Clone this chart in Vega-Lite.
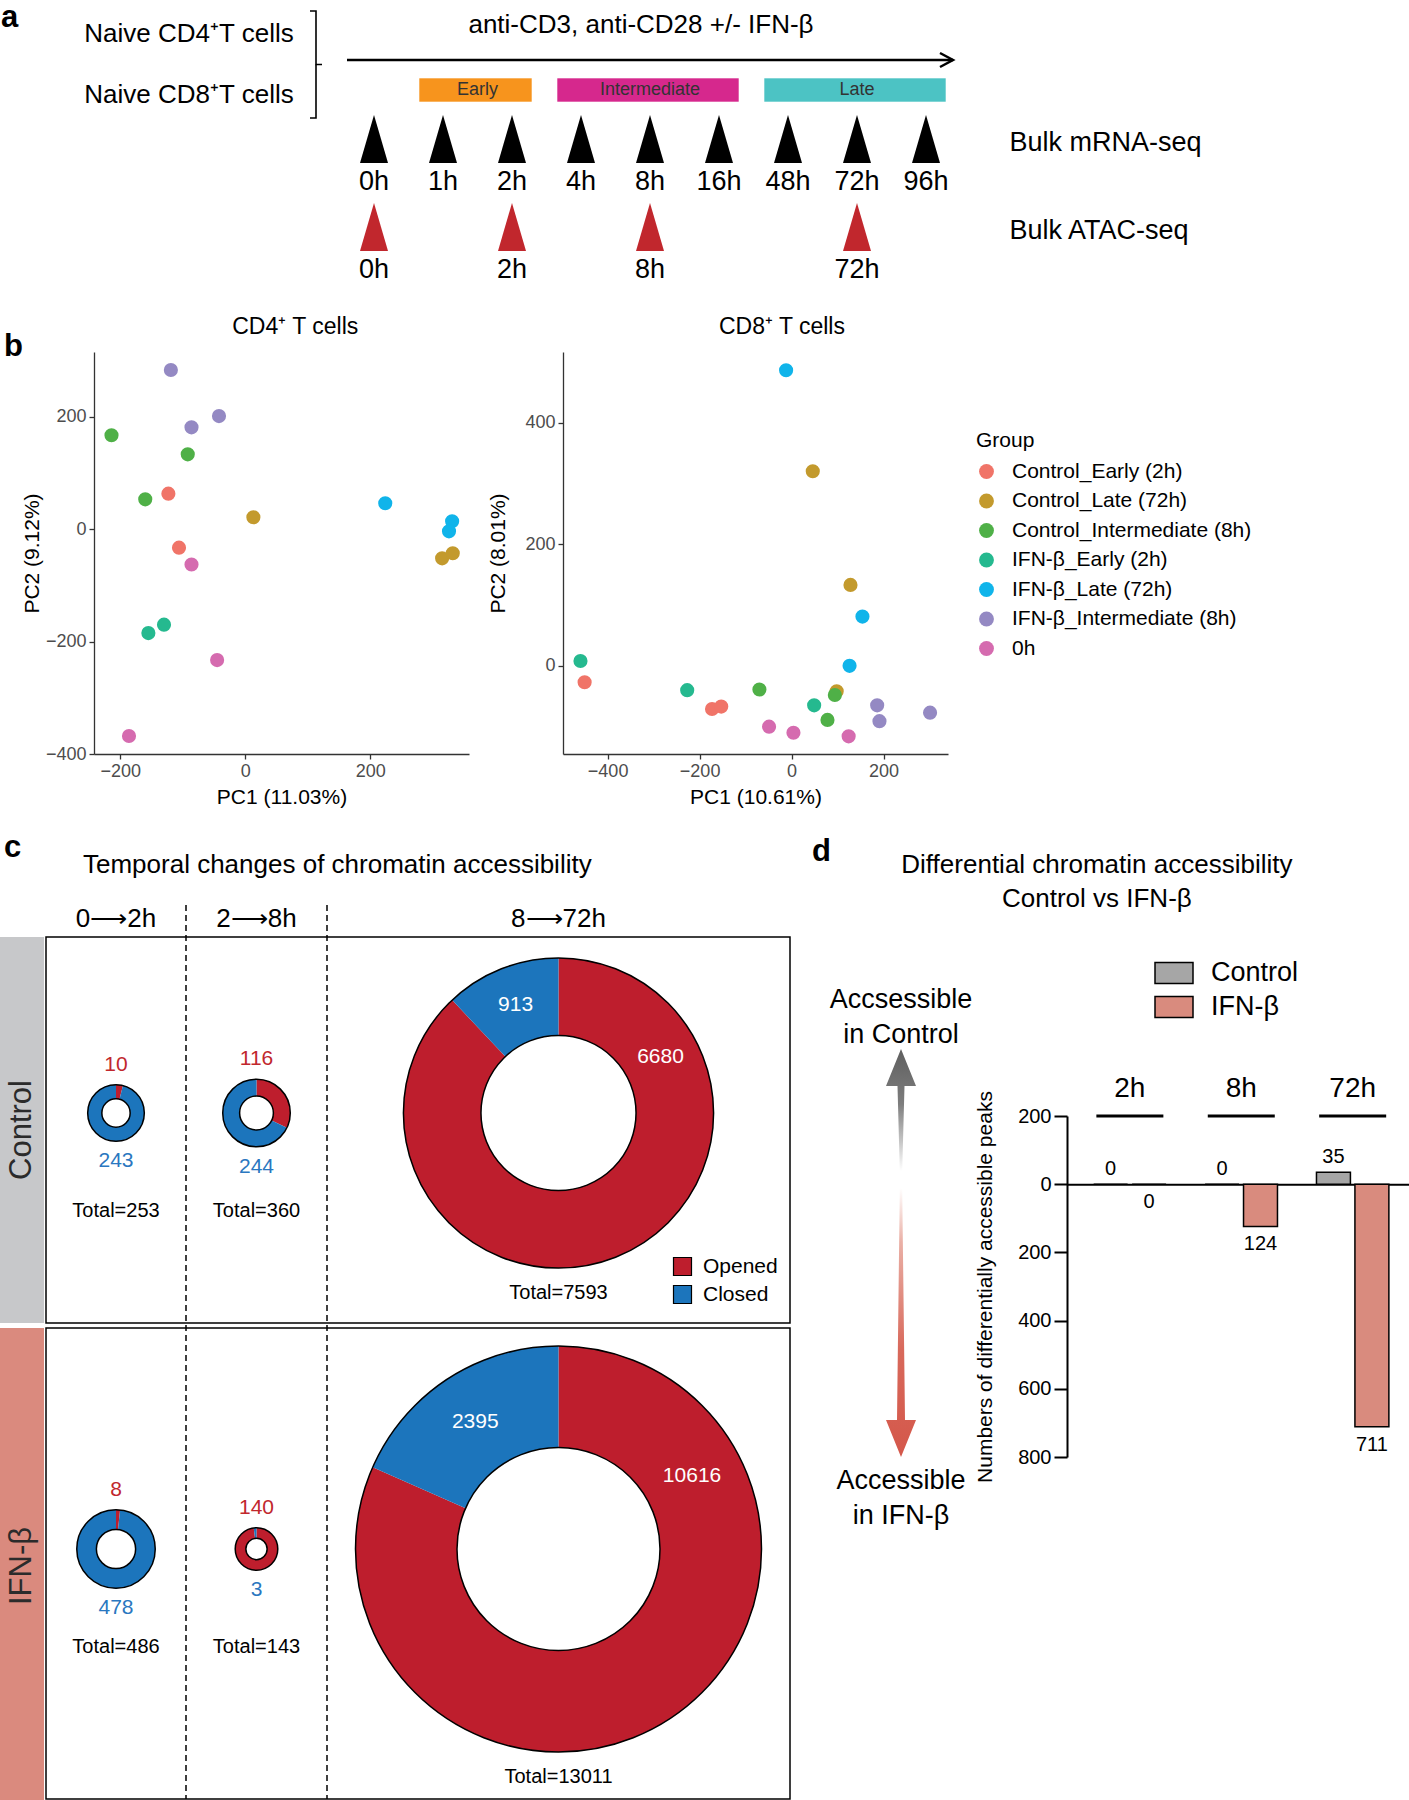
{
"$schema":"https://vega.github.io/schema/vega-lite/v6.json",
"padding":0,
"background":"white",
"config":{
 "font":"Liberation Sans",
 "view":{"stroke":null},
 "axis":{"grid":false,"domainColor":"#333333","domainWidth":1.3,"tickColor":"#333333","tickSize":5,"tickWidth":1.3,"labelColor":"#4D4D4D","labelFontSize":18,"labelPadding":3,"titleFontSize":21,"titleFontWeight":"normal","titleColor":"black","titlePadding":6,"labelLimit":0},
 "legend":{"titleFontWeight":"normal","titleColor":"black","labelColor":"black","labelLimit":0},
 "text":{"color":"black"}
},
"datasets":{
 "panelTitles":[{"panel":"a"},{"panel":"b"},{"panel":"c","title":"Temporal changes of chromatin accessibility"},{"panel":"d","title":["Differential chromatin accessibility","Control vs IFN-β"]}],
 "pcaTitles":[{"cells":"CD4","title":"CD4⁺ T cells"},{"cells":"CD8","title":"CD8⁺ T cells"}],
 "cells":[{"cell":"CD4","label":"Naive CD4⁺T cells"},{"cell":"CD8","label":"Naive CD8⁺T cells"}],
 "treatment":[{"label":"anti-CD3, anti-CD28 +/- IFN-β","start":0,"end":96}],
 "samples":[
  {"assay":"Bulk mRNA-seq","time":"0h","hours":0,"phase":null},
  {"assay":"Bulk mRNA-seq","time":"1h","hours":1,"phase":"Early"},
  {"assay":"Bulk mRNA-seq","time":"2h","hours":2,"phase":"Early"},
  {"assay":"Bulk mRNA-seq","time":"4h","hours":4,"phase":"Intermediate"},
  {"assay":"Bulk mRNA-seq","time":"8h","hours":8,"phase":"Intermediate"},
  {"assay":"Bulk mRNA-seq","time":"16h","hours":16,"phase":"Intermediate"},
  {"assay":"Bulk mRNA-seq","time":"48h","hours":48,"phase":"Late"},
  {"assay":"Bulk mRNA-seq","time":"72h","hours":72,"phase":"Late"},
  {"assay":"Bulk mRNA-seq","time":"96h","hours":96,"phase":"Late"},
  {"assay":"Bulk ATAC-seq","time":"0h","hours":0,"phase":null},
  {"assay":"Bulk ATAC-seq","time":"2h","hours":2,"phase":"Early"},
  {"assay":"Bulk ATAC-seq","time":"8h","hours":8,"phase":"Intermediate"},
  {"assay":"Bulk ATAC-seq","time":"72h","hours":72,"phase":"Late"}
 ],
 "pca":[
  {"cells":"CD4","group":"Control_Early (2h)","PC1":-123,"PC2":63},
  {"cells":"CD4","group":"Control_Early (2h)","PC1":-106,"PC2":-33},
  {"cells":"CD4","group":"Control_Late (72h)","PC1":13,"PC2":21},
  {"cells":"CD4","group":"Control_Late (72h)","PC1":315,"PC2":-52},
  {"cells":"CD4","group":"Control_Late (72h)","PC1":332,"PC2":-43},
  {"cells":"CD4","group":"Control_Intermediate (8h)","PC1":-214,"PC2":167},
  {"cells":"CD4","group":"Control_Intermediate (8h)","PC1":-92,"PC2":133},
  {"cells":"CD4","group":"Control_Intermediate (8h)","PC1":-160,"PC2":53},
  {"cells":"CD4","group":"IFN-β_Early (2h)","PC1":-155,"PC2":-185},
  {"cells":"CD4","group":"IFN-β_Early (2h)","PC1":-130,"PC2":-170},
  {"cells":"CD4","group":"IFN-β_Late (72h)","PC1":224,"PC2":46},
  {"cells":"CD4","group":"IFN-β_Late (72h)","PC1":331,"PC2":14},
  {"cells":"CD4","group":"IFN-β_Late (72h)","PC1":326,"PC2":-4},
  {"cells":"CD4","group":"IFN-β_Intermediate (8h)","PC1":-119,"PC2":283},
  {"cells":"CD4","group":"IFN-β_Intermediate (8h)","PC1":-42,"PC2":201},
  {"cells":"CD4","group":"IFN-β_Intermediate (8h)","PC1":-86,"PC2":181},
  {"cells":"CD4","group":"0h","PC1":-86,"PC2":-63},
  {"cells":"CD4","group":"0h","PC1":-45,"PC2":-233},
  {"cells":"CD4","group":"0h","PC1":-186,"PC2":-368},
  {"cells":"CD8","group":"Control_Early (2h)","PC1":-450,"PC2":-27},
  {"cells":"CD8","group":"Control_Early (2h)","PC1":-173,"PC2":-71},
  {"cells":"CD8","group":"Control_Early (2h)","PC1":-153,"PC2":-67},
  {"cells":"CD8","group":"Control_Late (72h)","PC1":46,"PC2":320},
  {"cells":"CD8","group":"Control_Late (72h)","PC1":128,"PC2":133},
  {"cells":"CD8","group":"Control_Late (72h)","PC1":98,"PC2":-42},
  {"cells":"CD8","group":"Control_Intermediate (8h)","PC1":-70,"PC2":-39},
  {"cells":"CD8","group":"Control_Intermediate (8h)","PC1":94,"PC2":-48},
  {"cells":"CD8","group":"Control_Intermediate (8h)","PC1":78,"PC2":-89},
  {"cells":"CD8","group":"IFN-β_Early (2h)","PC1":-459,"PC2":8},
  {"cells":"CD8","group":"IFN-β_Early (2h)","PC1":-227,"PC2":-40},
  {"cells":"CD8","group":"IFN-β_Early (2h)","PC1":49,"PC2":-65},
  {"cells":"CD8","group":"IFN-β_Late (72h)","PC1":-12,"PC2":486},
  {"cells":"CD8","group":"IFN-β_Late (72h)","PC1":154,"PC2":81},
  {"cells":"CD8","group":"IFN-β_Late (72h)","PC1":126,"PC2":0},
  {"cells":"CD8","group":"IFN-β_Intermediate (8h)","PC1":186,"PC2":-65},
  {"cells":"CD8","group":"IFN-β_Intermediate (8h)","PC1":191,"PC2":-91},
  {"cells":"CD8","group":"IFN-β_Intermediate (8h)","PC1":301,"PC2":-77},
  {"cells":"CD8","group":"0h","PC1":-49,"PC2":-100},
  {"cells":"CD8","group":"0h","PC1":4,"PC2":-110},
  {"cells":"CD8","group":"0h","PC1":124,"PC2":-116}
 ],
 "atac":[
  {"condition":"Control","interval":"0⟶2h","start":0,"end":2,"state":"Opened","count":10},
  {"condition":"Control","interval":"0⟶2h","start":0,"end":2,"state":"Closed","count":243},
  {"condition":"Control","interval":"2⟶8h","start":2,"end":8,"state":"Opened","count":116},
  {"condition":"Control","interval":"2⟶8h","start":2,"end":8,"state":"Closed","count":244},
  {"condition":"Control","interval":"8⟶72h","start":8,"end":72,"state":"Opened","count":6680},
  {"condition":"Control","interval":"8⟶72h","start":8,"end":72,"state":"Closed","count":913},
  {"condition":"IFN-β","interval":"0⟶2h","start":0,"end":2,"state":"Opened","count":8},
  {"condition":"IFN-β","interval":"0⟶2h","start":0,"end":2,"state":"Closed","count":478},
  {"condition":"IFN-β","interval":"2⟶8h","start":2,"end":8,"state":"Opened","count":140},
  {"condition":"IFN-β","interval":"2⟶8h","start":2,"end":8,"state":"Closed","count":3},
  {"condition":"IFN-β","interval":"8⟶72h","start":8,"end":72,"state":"Opened","count":10616},
  {"condition":"IFN-β","interval":"8⟶72h","start":8,"end":72,"state":"Closed","count":2395}
 ],
 "diff":[
  {"time":"2h","condition":"Control","peaks":0},
  {"time":"2h","condition":"IFN-β","peaks":0},
  {"time":"8h","condition":"Control","peaks":0},
  {"time":"8h","condition":"IFN-β","peaks":124},
  {"time":"72h","condition":"Control","peaks":35},
  {"time":"72h","condition":"IFN-β","peaks":711}
 ],
 "directions":[
  {"direction":"Control","label":["Accsessible","in Control"]},
  {"direction":"IFN-β","label":["Accessible","in IFN-β"]}
 ]
},
"vconcat":[
 {
  "width":1409,"height":300,
  "layer":[
   {"data":{"name":"panelTitles"},"transform":[{"filter":"datum.panel === 'a'"}],
    "mark":{"type":"text","fontSize":31,"fontWeight":"bold","align":"left","baseline":"alphabetic","dx":-373,"dy":-112},
    "encoding":{"x":{"datum":0,"type":"quantitative","scale":{"type":"linear","domain":[0,1,2,4,8,16,48,72,96],"range":[374,443,512,581,650,719,788,857,926],"nice":false,"zero":false},"axis":null},
     "y":{"datum":"Bulk mRNA-seq","type":"nominal","scale":{"type":"point","domain":["Bulk mRNA-seq","Bulk ATAC-seq"],"range":[139,227],"padding":0},"axis":null},
     "text":{"field":"panel","type":"nominal"}}},
   {"data":{"name":"cells"},"mark":{"type":"text","fontSize":26,"dx":-185},
    "encoding":{"x":{"datum":0,"type":"quantitative","scale":{"type":"linear","domain":[0,1,2,4,8,16,48,72,96],"range":[374,443,512,581,650,719,788,857,926],"nice":false,"zero":false},"axis":null},
     "y":{"field":"cell","type":"nominal","scale":{"type":"point","domain":["CD4","CD8"],"range":[11,118],"padding":0.383},"axis":null},
     "text":{"field":"label","type":"nominal"}}},
   {"data":{"name":"cells"},"mark":{"type":"point","filled":false,"size":4,"stroke":"black","strokeWidth":1.6,"opacity":1,"xOffset":-58},
    "encoding":{"x":{"datum":0,"type":"quantitative","scale":{"type":"linear","domain":[0,1,2,4,8,16,48,72,96],"range":[374,443,512,581,650,719,788,857,926],"nice":false,"zero":false},"axis":null},
     "y":{"field":"cell","type":"nominal","scale":{"type":"point","domain":["CD4","CD8"],"range":[11,118],"padding":0.383},"axis":null},
     "shape":{"field":"cell","type":"nominal","scale":{"domain":["CD4","CD8"],"range":["M-6,-23.2L0,-23.2L0,30.3L6,30.3","M0,-30.3L0,23.2L-6,23.2"]},"legend":null}}},
   {"data":{"name":"treatment"},"mark":{"type":"rule","color":"black","strokeWidth":2.5,"xOffset":-27,"x2Offset":27,"yOffset":-79},
    "encoding":{"x":{"field":"start","type":"quantitative","scale":{"type":"linear","domain":[0,1,2,4,8,16,48,72,96],"range":[374,443,512,581,650,719,788,857,926],"nice":false,"zero":false},"axis":null},
     "x2":{"field":"end"},
     "y":{"datum":"Bulk mRNA-seq","type":"nominal","scale":{"type":"point","domain":["Bulk mRNA-seq","Bulk ATAC-seq"],"range":[139,227],"padding":0},"axis":null}}},
   {"data":{"name":"treatment"},"mark":{"type":"point","shape":"M-13,-7L0,0L-13,7","size":4,"filled":false,"stroke":"black","strokeWidth":2.5,"opacity":1,"xOffset":27,"yOffset":-79},
    "encoding":{"x":{"field":"end","type":"quantitative","scale":{"type":"linear","domain":[0,1,2,4,8,16,48,72,96],"range":[374,443,512,581,650,719,788,857,926],"nice":false,"zero":false},"axis":null},
     "y":{"datum":"Bulk mRNA-seq","type":"nominal","scale":{"type":"point","domain":["Bulk mRNA-seq","Bulk ATAC-seq"],"range":[139,227],"padding":0},"axis":null}}},
   {"data":{"name":"treatment"},"mark":{"type":"text","fontSize":26,"dx":-9,"yOffset":-114},
    "encoding":{"x":{"datum":8,"type":"quantitative","scale":{"type":"linear","domain":[0,1,2,4,8,16,48,72,96],"range":[374,443,512,581,650,719,788,857,926],"nice":false,"zero":false},"axis":null},
     "y":{"datum":"Bulk mRNA-seq","type":"nominal","scale":{"type":"point","domain":["Bulk mRNA-seq","Bulk ATAC-seq"],"range":[139,227],"padding":0},"axis":null},
     "text":{"field":"label","type":"nominal"}}},
   {"data":{"name":"samples"},
    "transform":[{"filter":"datum.assay === 'Bulk mRNA-seq' && datum.phase !== null"},{"aggregate":[{"op":"min","field":"hours","as":"from"},{"op":"max","field":"hours","as":"to"},{"op":"median","field":"hours","as":"centre"}],"groupby":["phase"]}],
    "layer":[
     {"mark":{"type":"rect","xOffset":-24,"x2Offset":20,"yOffset":-61,"y2Offset":-37,"stroke":"white","strokeWidth":1,"strokeOpacity":0.6},
      "encoding":{"x":{"field":"from","type":"quantitative","scale":{"type":"linear","domain":[0,1,2,4,8,16,48,72,96],"range":[374,443,512,581,650,719,788,857,926],"nice":false,"zero":false},"axis":null},
       "x2":{"field":"to"},
       "y":{"datum":"Bulk mRNA-seq","type":"nominal","scale":{"type":"point","domain":["Bulk mRNA-seq","Bulk ATAC-seq"],"range":[139,227],"padding":0},"axis":null},
       "y2":{"datum":"Bulk mRNA-seq"},
       "color":{"field":"phase","type":"nominal","scale":{"domain":["Early","Intermediate","Late"],"range":["#F7941D","#D6288D","#4CC3C4"]},"legend":null}}},
     {"mark":{"type":"text","fontSize":18,"color":"#333333","yOffset":-49},
      "encoding":{"x":{"field":"centre","type":"quantitative","scale":{"type":"linear","domain":[0,1,2,4,8,16,48,72,96],"range":[374,443,512,581,650,719,788,857,926],"nice":false,"zero":false},"axis":null},
       "y":{"datum":"Bulk mRNA-seq","type":"nominal","scale":{"type":"point","domain":["Bulk mRNA-seq","Bulk ATAC-seq"],"range":[139,227],"padding":0},"axis":null},
       "text":{"field":"phase","type":"nominal"}}}
    ]},
   {"data":{"name":"samples"},"mark":{"type":"point","shape":"M-14,24L0,-24L14,24Z","size":4,"filled":true,"opacity":1,"strokeWidth":0},
    "encoding":{"x":{"field":"hours","type":"quantitative","scale":{"type":"linear","domain":[0,1,2,4,8,16,48,72,96],"range":[374,443,512,581,650,719,788,857,926],"nice":false,"zero":false},"axis":null},
     "y":{"field":"assay","type":"nominal","scale":{"type":"point","domain":["Bulk mRNA-seq","Bulk ATAC-seq"],"range":[139,227],"padding":0},"axis":{"orient":"right","offset":-400,"domain":false,"ticks":false,"labelPadding":0,"labelFontSize":27,"labelColor":"black","labelAlign":"left","labelOffset":3,"labelLimit":0,"title":null}},
     "color":{"field":"assay","type":"nominal","scale":{"domain":["Bulk mRNA-seq","Bulk ATAC-seq"],"range":["#000000","#C1272D"]},"legend":null}}},
   {"data":{"name":"samples"},"mark":{"type":"text","fontSize":27,"dy":43},
    "encoding":{"x":{"field":"hours","type":"quantitative","scale":{"type":"linear","domain":[0,1,2,4,8,16,48,72,96],"range":[374,443,512,581,650,719,788,857,926],"nice":false,"zero":false},"axis":null},
     "y":{"field":"assay","type":"nominal","scale":{"type":"point","domain":["Bulk mRNA-seq","Bulk ATAC-seq"],"range":[139,227],"padding":0},"axis":null},
     "text":{"field":"time","type":"nominal"}}}
  ],
  "resolve":{"scale":{"y":"independent","color":"independent","shape":"independent"}}
 },
 {
  "width":1409,"height":454,
  "layer":[
   {"data":{"name":"pca"},"transform":[{"filter":"datum.cells === 'CD4'"}],
    "layer":[
     {"mark":{"type":"circle","size":200,"opacity":1},
      "encoding":{
       "x":{"field":"PC1","type":"quantitative","scale":{"domain":[-242,358],"range":[94,469],"nice":false,"zero":false},"axis":{"orient":"bottom","values":[-200,0,200],"title":"PC1 (11.03%)"}},
       "y":{"field":"PC2","type":"quantitative","scale":{"domain":[-400,315],"range":[454,52],"nice":false,"zero":false},"axis":{"orient":"left","offset":-94,"values":[-400,-200,0,200],"title":"PC2 (9.12%)","titlePadding":3}},
       "color":{"field":"group","type":"nominal","scale":{"domain":["Control_Early (2h)","Control_Late (72h)","Control_Intermediate (8h)","IFN-β_Early (2h)","IFN-β_Late (72h)","IFN-β_Intermediate (8h)","0h"],"range":["#F07468","#C39A2D","#4FB047","#25B98F","#10B4EA","#9489C3","#D56BAF"]},"legend":null}}},
     {"data":{"name":"pcaTitles"},"transform":[{"filter":"datum.cells === 'CD4'"}],"mark":{"type":"text","fontSize":23,"dy":-25},
      "encoding":{"x":{"datum":80,"type":"quantitative"},"y":{"datum":315,"type":"quantitative"},"text":{"field":"title","type":"nominal"}}},
     {"data":{"name":"panelTitles"},"transform":[{"filter":"datum.panel === 'b'"}],"mark":{"type":"text","fontSize":31,"fontWeight":"bold","align":"left","baseline":"alphabetic","dy":4},
      "encoding":{"x":{"datum":-386,"type":"quantitative"},"y":{"datum":315,"type":"quantitative"},"text":{"field":"panel","type":"nominal"}}}
    ]},
   {"data":{"name":"pca"},"transform":[{"filter":"datum.cells === 'CD8'"}],
    "layer":[
     {"mark":{"type":"circle","size":200,"opacity":1},
      "encoding":{
       "x":{"field":"PC1","type":"quantitative","scale":{"domain":[-497,340],"range":[563,948],"nice":false,"zero":false},"axis":{"orient":"bottom","values":[-400,-200,0,200],"title":"PC1 (10.61%)"}},
       "y":{"field":"PC2","type":"quantitative","scale":{"domain":[-145,516],"range":[454,52],"nice":false,"zero":false},"axis":{"orient":"left","offset":-563,"values":[0,200,400],"title":"PC2 (8.01%)","titlePadding":16}},
       "color":{"field":"group","type":"nominal","scale":{"domain":["Control_Early (2h)","Control_Late (72h)","Control_Intermediate (8h)","IFN-β_Early (2h)","IFN-β_Late (72h)","IFN-β_Intermediate (8h)","0h"],"range":["#F07468","#C39A2D","#4FB047","#25B98F","#10B4EA","#9489C3","#D56BAF"]},
        "legend":{"orient":"none","legendX":976,"legendY":130,"title":"Group","titleFontSize":21,"labelFontSize":21,"symbolType":"circle","symbolSize":220,"symbolOpacity":1,"rowPadding":7.5,"titlePadding":10,"labelOffset":15,"padding":0,"labelLimit":0}}}},
     {"data":{"name":"pcaTitles"},"transform":[{"filter":"datum.cells === 'CD8'"}],"mark":{"type":"text","fontSize":23,"dy":-25},
      "encoding":{"x":{"datum":-21,"type":"quantitative"},"y":{"datum":516,"type":"quantitative"},"text":{"field":"title","type":"nominal"}}}
    ]}
  ],
  "resolve":{"scale":{"x":"independent","y":"independent","color":"independent"},"axis":{"x":"independent","y":"independent"}}
 },
 {
  "width":1409,"height":1046,
  "layer":[
   {"data":{"name":"atac"},
    "transform":[
     {"joinaggregate":[{"op":"sum","field":"count","as":"total"}],"groupby":["condition","interval"]},
     {"stack":"count","groupby":["condition","interval"],"sort":[{"field":"state","order":"descending"}],"offset":"normalize","as":["t0","t1"]},
     {"calculate":"(datum.start + datum.end) / 2","as":"mid"},
     {"calculate":"datum.total / 4","as":"inner"},
     {"calculate":"datum.total * 0.5625","as":"ringmid"},
     {"calculate":"(datum.t0 + datum.t1) / 2","as":"tm"},
     {"calculate":"'Total=' + datum.total","as":"totalLabel"}
    ],
    "layer":[
     {"transform":[{"filter":"datum.condition === 'Control' && datum.end === 2 && datum.state === 'Opened'"}],
      "mark":{"type":"rect","color":"#C7C8CA","xOffset":-46,"x2Offset":-2,"yOffset":-176,"y2Offset":210},
      "encoding":{"x":{"field":"start","type":"quantitative","scale":{"type":"linear","domain":[0,2,8,72],"range":[46,186,327,790],"nice":false,"zero":false},"axis":null},"x2":{"field":"start"},
       "y":{"field":"condition","type":"nominal","scale":{"type":"point","domain":["Control","IFN-β"],"range":[359,795],"padding":0},"axis":null},"y2":{"field":"condition"}}},
     {"transform":[{"filter":"datum.condition === 'IFN-β' && datum.end === 2 && datum.state === 'Opened'"}],
      "mark":{"type":"rect","color":"#DA8A7E","xOffset":-46,"x2Offset":-2,"yOffset":-221,"y2Offset":251},
      "encoding":{"x":{"field":"start","type":"quantitative"},"x2":{"field":"start"},
       "y":{"field":"condition","type":"nominal"},"y2":{"field":"condition"}}},
     {"transform":[{"filter":"datum.end === 2 && datum.state === 'Opened'"}],
      "mark":{"type":"text","angle":270,"fontSize":31,"color":"#2B2B2B","xOffset":-24,"yOffset":17},
      "encoding":{"x":{"field":"start","type":"quantitative","stack":null},"y":{"field":"condition","type":"nominal"},"text":{"field":"condition","type":"nominal"}}},
     {"transform":[{"filter":"datum.state === 'Opened'"},{"aggregate":[{"op":"min","field":"start","as":"from"},{"op":"max","field":"end","as":"to"}],"groupby":["condition"]},{"filter":"datum.condition === 'Control'"}],
      "mark":{"type":"rect","filled":false,"stroke":"black","strokeWidth":1.5,"yOffset":-176,"y2Offset":210},
      "encoding":{"x":{"field":"from","type":"quantitative"},"x2":{"field":"to"},"y":{"field":"condition","type":"nominal"},"y2":{"field":"condition"}}},
     {"transform":[{"filter":"datum.state === 'Opened'"},{"aggregate":[{"op":"min","field":"start","as":"from"},{"op":"max","field":"end","as":"to"}],"groupby":["condition"]},{"filter":"datum.condition === 'IFN-β'"}],
      "mark":{"type":"rect","filled":false,"stroke":"black","strokeWidth":1.5,"yOffset":-221,"y2Offset":250},
      "encoding":{"x":{"field":"from","type":"quantitative"},"x2":{"field":"to"},"y":{"field":"condition","type":"nominal"},"y2":{"field":"condition"}}},
     {"transform":[{"filter":"datum.condition === 'Control' && datum.state === 'Opened' && datum.end < 72"}],
      "mark":{"type":"rule","strokeDash":[6,4],"strokeWidth":1.5,"color":"black","yOffset":-208,"y2Offset":250},
      "encoding":{"x":{"field":"end","type":"quantitative","stack":null},"y":{"datum":"Control","type":"nominal"},"y2":{"datum":"IFN-β"}}},
     {"transform":[{"filter":"datum.condition === 'Control' && datum.state === 'Opened'"}],
      "mark":{"type":"text","fontSize":26,"dy":-194},
      "encoding":{"x":{"field":"mid","type":"quantitative","stack":null},"y":{"field":"condition","type":"nominal"},"text":{"field":"interval","type":"nominal"}}},
     {"data":{"name":"panelTitles"},"transform":[{"filter":"datum.panel === 'c'"}],
      "mark":{"type":"text","fontSize":26,"align":"left","dx":37,"dy":-248},
      "encoding":{"x":{"datum":0,"type":"quantitative"},"y":{"datum":"Control","type":"nominal"},"text":{"field":"title","type":"nominal"}}},
     {"data":{"name":"panelTitles"},"transform":[{"filter":"datum.panel === 'c'"}],
      "mark":{"type":"text","fontSize":31,"fontWeight":"bold","align":"left","baseline":"alphabetic","dx":-42,"dy":-256},
      "encoding":{"x":{"datum":0,"type":"quantitative"},"y":{"datum":"Control","type":"nominal"},"text":{"field":"panel","type":"nominal"}}},
     {"mark":{"type":"arc","stroke":null},
      "encoding":{"x":{"field":"mid","type":"quantitative","stack":null},"y":{"field":"condition","type":"nominal"},
       "theta":{"field":"t0","type":"quantitative","stack":null,"scale":{"type":"linear","domain":[0,1],"range":[0,6.283185307179586],"nice":false,"zero":false}},
       "theta2":{"field":"t1"},
       "radius":{"field":"total","type":"quantitative","stack":null,"scale":{"type":"sqrt","domain":[0,13011],"range":[0,203],"zero":true,"nice":false}},
       "radius2":{"field":"inner"},
       "color":{"field":"state","type":"nominal","scale":{"domain":["Opened","Closed"],"range":["#BE1E2D","#1C75BC"]},
        "legend":{"orient":"none","legendX":672,"legendY":502,"title":null,"symbolType":"square","symbolSize":324,"symbolOpacity":1,"symbolStrokeColor":"black","symbolStrokeWidth":1.2,"labelFontSize":21,"rowPadding":5,"labelOffset":10,"padding":0}}}},
     {"transform":[{"filter":"datum.state === 'Opened'"}],
      "mark":{"type":"arc","filled":false,"stroke":"black","strokeWidth":1.5},
      "encoding":{"x":{"field":"mid","type":"quantitative","stack":null},"y":{"field":"condition","type":"nominal"},
       "theta":{"datum":0,"type":"quantitative","stack":null},"theta2":{"datum":1},
       "radius":{"field":"total","type":"quantitative","stack":null},"radius2":{"field":"inner"}}},
     {"transform":[{"filter":"datum.end <= 8 && datum.state === 'Opened'"}],
      "mark":{"type":"text","theta":0,"radiusOffset":20,"fontSize":21,"color":"#C1272D"},
      "encoding":{"x":{"field":"mid","type":"quantitative","stack":null},"y":{"field":"condition","type":"nominal"},"radius":{"field":"total","type":"quantitative","stack":null},"text":{"field":"count","type":"nominal"}}},
     {"transform":[{"filter":"datum.end <= 8 && datum.state === 'Closed'"}],
      "mark":{"type":"text","theta":3.14159,"radiusOffset":20,"fontSize":21,"color":"#2A77C0"},
      "encoding":{"x":{"field":"mid","type":"quantitative","stack":null},"y":{"field":"condition","type":"nominal"},"radius":{"field":"total","type":"quantitative","stack":null},"text":{"field":"count","type":"nominal"}}},
     {"transform":[{"filter":"datum.end <= 8 && datum.state === 'Opened'"}],
      "mark":{"type":"text","theta":3.14159,"radius":98,"fontSize":20},
      "encoding":{"x":{"field":"mid","type":"quantitative","stack":null},"y":{"field":"condition","type":"nominal"},"text":{"field":"totalLabel","type":"nominal"}}},
     {"transform":[{"filter":"datum.end === 72 && datum.state === 'Closed'"}],
      "mark":{"type":"text","fontSize":21,"color":"white"},
      "encoding":{"x":{"field":"mid","type":"quantitative","stack":null},"y":{"field":"condition","type":"nominal"},
       "theta":{"field":"tm","type":"quantitative","stack":null},
       "radius":{"field":"ringmid","type":"quantitative","stack":null},"text":{"field":"count","type":"nominal"}}},
     {"transform":[{"filter":"datum.end === 72 && datum.state === 'Opened'"}],
      "mark":{"type":"text","theta":1.07,"fontSize":21,"color":"white"},
      "encoding":{"x":{"field":"mid","type":"quantitative","stack":null},"y":{"field":"condition","type":"nominal"},
       "radius":{"field":"ringmid","type":"quantitative","stack":null},"text":{"field":"count","type":"nominal"}}},
     {"transform":[{"filter":"datum.end === 72 && datum.state === 'Opened'"}],
      "mark":{"type":"text","theta":3.14159,"radiusOffset":25,"fontSize":20},
      "encoding":{"x":{"field":"mid","type":"quantitative","stack":null},"y":{"field":"condition","type":"nominal"},
       "radius":{"field":"total","type":"quantitative","stack":null},"text":{"field":"totalLabel","type":"nominal"}}}
    ]},
   {"data":{"name":"directions"},
    "layer":[
     {"transform":[{"filter":"datum.direction === 'Control'"}],
      "mark":{"type":"point","shape":"M0,-61L15,-24L3.5,-24L1.2,61L-1.2,61L-3.5,-24L-15,-24Z","size":4,"filled":true,"opacity":1,"strokeWidth":0,
       "fill":{"gradient":"linear","x1":0,"y1":0,"x2":0,"y2":1,"stops":[{"offset":0,"color":"#5F5F5F"},{"offset":0.45,"color":"#7D7D7D"},{"offset":1,"color":"#FFFFFF"}]}},
      "encoding":{"x":{"field":"direction","type":"nominal","scale":{"type":"point","domain":["Control","IFN-β"],"range":[901,901]},"axis":null},
       "y":{"field":"direction","type":"nominal","scale":{"type":"point","domain":["Control","IFN-β"],"range":[356,568.5],"padding":0},"axis":null}}},
     {"transform":[{"filter":"datum.direction === 'IFN-β'"}],
      "mark":{"type":"point","shape":"M0,134.5L15,97.5L4,97.5L1.2,-134.5L-1.2,-134.5L-4,97.5L-15,97.5Z","size":4,"filled":true,"opacity":1,"strokeWidth":0,
       "fill":{"gradient":"linear","x1":0,"y1":0,"x2":0,"y2":1,"stops":[{"offset":0,"color":"#FFFFFF"},{"offset":0.2,"color":"#EAB0A6"},{"offset":0.6,"color":"#D8695B"},{"offset":1,"color":"#D4574A"}]}},
      "encoding":{"x":{"field":"direction","type":"nominal"},"y":{"field":"direction","type":"nominal"}}}
    ]},
   {"data":{"name":"directions"},
    "layer":[
     {"mark":{"type":"text","fontSize":27,"lineHeight":35},
      "encoding":{"x":{"field":"direction","type":"nominal","scale":{"type":"point","domain":["Control","IFN-β"],"range":[901,901]},"axis":null},
       "y":{"field":"direction","type":"nominal","scale":{"type":"point","domain":["Control","IFN-β"],"range":[246,727],"padding":0},"axis":null},
       "text":{"field":"label","type":"nominal"}}},
     {"data":{"name":"panelTitles"},"transform":[{"filter":"datum.panel === 'd'"}],
      "mark":{"type":"text","fontSize":31,"fontWeight":"bold","align":"left","baseline":"alphabetic","dx":-89,"dy":-139},
      "encoding":{"x":{"datum":"Control","type":"nominal"},"y":{"datum":"Control","type":"nominal"},"text":{"field":"panel","type":"nominal"}}}
    ]},
   {"data":{"name":"diff"},
    "transform":[{"calculate":"datum.condition === 'Control' ? datum.peaks : -datum.peaks","as":"signed"}],
    "layer":[
     {"mark":{"type":"bar","stroke":"black","strokeWidth":1.5},
      "encoding":{
       "x":{"field":"time","type":"nominal","scale":{"type":"band","domain":["2h","8h","72h"],"range":[1067,1409],"paddingInner":0.35,"paddingOuter":0.21,"align":0.57},
        "axis":{"orient":"top","offset":-362,"domain":false,"ticks":false,"labelFontSize":28,"labelColor":"black","labelPadding":14,"labelAngle":0,"title":null}},
       "xOffset":{"field":"condition","type":"nominal","scale":{"domain":["Control","IFN-β"],"paddingInner":0.117}},
       "y":{"field":"signed","type":"quantitative","scale":{"domain":[-800,200],"range":[703,362],"nice":false,"zero":false},
        "axis":{"orient":"left","offset":-1067,"values":[-800,-600,-400,-200,0,200],"labelExpr":"format(abs(datum.value), 'd')","title":"Numbers of differentially accessible peaks","titleFontSize":21,"titleColor":"black","labelFontSize":20,"labelColor":"black","domainColor":"black","domainWidth":2,"tickColor":"black","tickWidth":2,"tickSize":13,"labelPadding":3,"titlePadding":22}},
       "color":{"field":"condition","type":"nominal","scale":{"domain":["Control","IFN-β"],"range":["#A6A6A6","#D98B7E"]},
        "legend":{"orient":"none","legendX":1154,"legendY":199,"title":null,"symbolType":"M-1,-0.55H1V0.55H-1Z","symbolSize":1444,"symbolOpacity":1,"symbolStrokeColor":"black","symbolStrokeWidth":1.5,"labelFontSize":27,"labelOffset":17,"rowPadding":-5,"padding":0}}}},
     {"transform":[{"filter":"datum.condition === 'Control'"}],
      "mark":{"type":"tick","orient":"horizontal","thickness":3,"size":67,"color":"black","opacity":1},
      "encoding":{"x":{"field":"time","type":"nominal","axis":{"orient":"bottom","offset":-615.8,"labels":false,"ticks":false,"domain":true,"domainColor":"black","domainWidth":2,"title":null}},
       "y":{"datum":200,"type":"quantitative"}}},
     {"transform":[{"filter":"datum.condition === 'Control'"}],"mark":{"type":"text","fontSize":20,"baseline":"bottom","dy":-5},
      "encoding":{"x":{"field":"time","type":"nominal","axis":null},"xOffset":{"field":"condition","type":"nominal"},
       "y":{"field":"signed","type":"quantitative"},"text":{"field":"peaks","type":"nominal"}}},
     {"transform":[{"filter":"datum.condition === 'IFN-β'"}],"mark":{"type":"text","fontSize":20,"baseline":"top","dy":8},
      "encoding":{"x":{"field":"time","type":"nominal","axis":null},"xOffset":{"field":"condition","type":"nominal"},
       "y":{"field":"signed","type":"quantitative"},"text":{"field":"peaks","type":"nominal"}}},
     {"data":{"name":"panelTitles"},"transform":[{"filter":"datum.panel === 'd'"}],
      "mark":{"type":"text","fontSize":26,"lineHeight":34,"dx":-33,"dy":-251},
      "encoding":{"x":{"datum":"2h","type":"nominal","axis":null},"y":{"datum":200,"type":"quantitative"},"text":{"field":"title","type":"nominal"}}}
    ],
    "resolve":{"axis":{"x":"independent"}}}
  ],
  "resolve":{"scale":{"x":"independent","y":"independent","color":"independent"},"axis":{"x":"independent","y":"independent"}}
 }
],
"spacing":0,
"bounds":"flush",
"resolve":{"scale":{"color":"independent","shape":"independent","theta":"independent","radius":"independent","xOffset":"independent"}}
}
